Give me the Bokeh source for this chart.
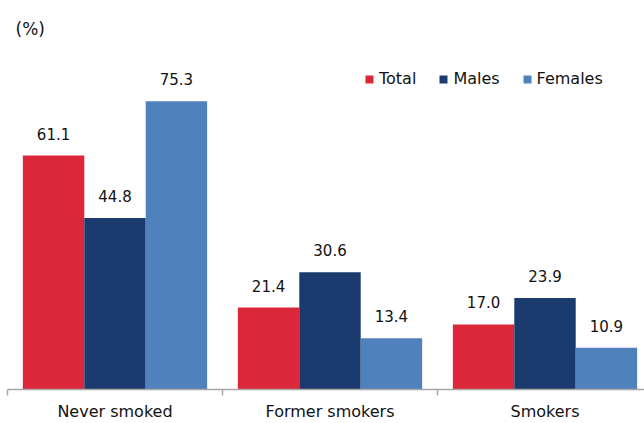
from bokeh.plotting import figure
from bokeh.models import Range1d, FixedTicker, Legend, LegendItem, Label, ColumnDataSource
from bokeh.core.properties import value
from bokeh.embed import file_html
from bokeh.resources import INLINE

categories = ["Never smoked", "Former smokers", "Smokers"]
series = ["Total", "Males", "Females"]
total = [61.1, 21.4, 17.0]
males = [44.8, 30.6, 23.9]
females = [75.3, 13.4, 10.9]
colors = ["#DC2639", "#1B3A6E", "#4F81BD"]
unit_label = "(%)"

FONT = "DejaVu Sans"
W, H = 644, 423
bar_w = 2 / 7
offsets = [-bar_w, 0.0, bar_w]

p = figure(width=W, height=H, x_range=Range1d(0, 637 / 215), y_range=Range1d(0, 101.6),
           output_backend="svg", toolbar_location=None, y_axis_location=None,
           min_border_left=7, min_border_right=0, min_border_top=0, min_border_bottom=0)
p.xgrid.visible = False
p.ygrid.visible = False
p.outline_line_color = None
p.background_fill_color = "white"
p.border_fill_color = "white"

renderers = []
for name, vals, col, off in zip(series, [total, males, females], colors, offsets):
    src = ColumnDataSource(dict(
        x=[i + 0.5 + off for i in range(len(categories))],
        top=vals,
        label=[f"{v:.1f}" for v in vals],
    ))
    r = p.vbar(x="x", top="top", width=bar_w, source=src, fill_color=col, line_color=None)
    renderers.append((name, r))
    p.text(x="x", y="top", text="label", source=src, text_align="center",
           text_baseline="alphabetic", y_offset=-22, text_font=value(FONT),
           text_font_size="15px", text_color="#111111")

ax = p.xaxis[0]
ax.ticker = FixedTicker(ticks=[i + 0.5 for i in range(len(categories))],
                        minor_ticks=list(range(len(categories))))
ax.major_label_overrides = {i + 0.5: c for i, c in enumerate(categories)}
ax.axis_line_color = "#A6A6A6"
ax.axis_line_width = 1.5
ax.major_tick_line_color = None
ax.major_tick_in = 0
ax.major_tick_out = 0
ax.minor_tick_line_color = "#A6A6A6"
ax.minor_tick_line_width = 1.5
ax.minor_tick_in = 0
ax.minor_tick_out = 6
ax.major_label_standoff = 6
ax.major_label_text_font = FONT
ax.major_label_text_font_size = "16px"
ax.major_label_text_color = "#111111"

legend = Legend(items=[LegendItem(label=n, renderers=[r]) for n, r in renderers],
                location=(357, 301), orientation="horizontal",
                glyph_width=10, glyph_height=10, label_standoff=5, spacing=22,
                padding=0, margin=0, border_line_color=None, background_fill_alpha=0,
                label_text_font=FONT, label_text_font_size="16px",
                label_text_color="#111111")
p.add_layout(legend, "center")

p.add_layout(Label(x=8, y=361, x_units="screen", y_units="screen", text=unit_label,
                   text_font=FONT, text_font_size="17px", text_color="#111111",
                   text_baseline="alphabetic"))

open("out.html", "w").write(file_html(p, INLINE))
